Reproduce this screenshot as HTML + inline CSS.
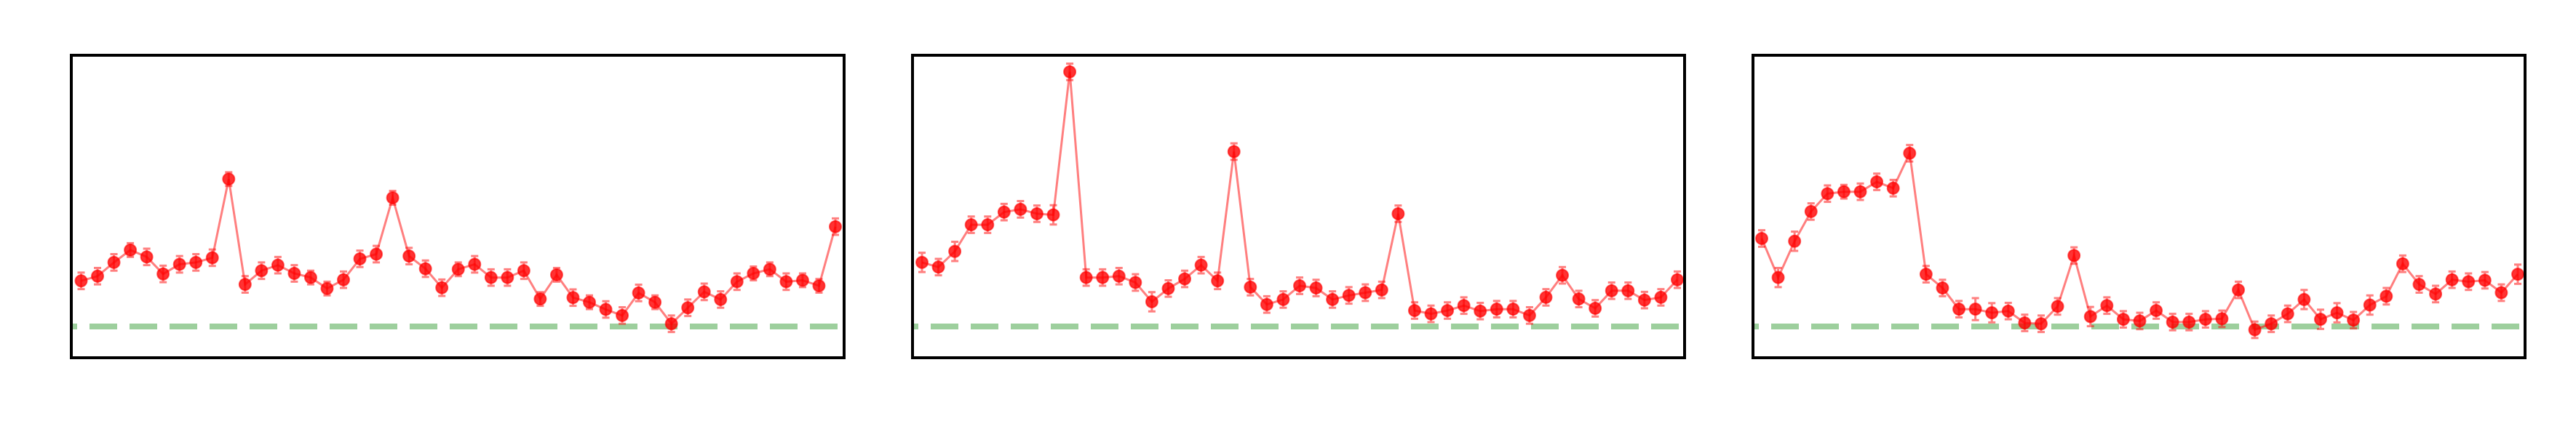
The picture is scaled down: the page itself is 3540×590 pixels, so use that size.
<!DOCTYPE html>
<html><head><meta charset="utf-8"><style>
html,body{margin:0;padding:0;background:#fff;}
svg{display:block;}
</style></head><body>
<svg id="chart" width="3540" height="590" viewBox="0 0 3540 590" xmlns="http://www.w3.org/2000/svg"></svg>
<script>
const series1 = [1.66,1.83,2.33,2.78,2.53,1.91,2.26,2.33,2.50,5.36,1.53,2.03,2.23,1.93,1.78,1.38,1.70,2.46,2.63,4.68,2.56,2.10,1.41,2.08,2.26,1.78,1.78,2.03,1.00,1.88,1.05,0.88,0.62,0.40,1.22,0.88,0.10,0.68,1.26,0.98,1.63,1.93,2.08,1.63,1.68,1.48,3.63];
const series2 = [2.33,2.16,2.73,3.70,3.70,4.16,4.26,4.10,4.06,9.26,1.78,1.78,1.83,1.60,0.90,1.38,1.73,2.23,1.66,6.36,1.43,0.80,0.98,1.48,1.40,0.98,1.13,1.23,1.33,4.10,0.58,0.46,0.58,0.76,0.56,0.63,0.63,0.40,1.06,1.86,1.00,0.66,1.30,1.30,0.96,1.06,1.70];
const series3 = [3.20,1.78,3.10,4.18,4.83,4.90,4.90,5.26,5.03,6.30,1.90,1.40,0.63,0.63,0.50,0.56,0.13,0.10,0.73,2.58,0.36,0.76,0.26,0.20,0.58,0.16,0.16,0.26,0.28,1.33,-0.12,0.10,0.46,0.98,0.26,0.50,0.23,0.78,1.10,2.28,1.53,1.18,1.70,1.63,1.68,1.23,1.90];
const errors1 = [0.3,0.3,0.3,0.25,0.3,0.3,0.3,0.3,0.3,0.25,0.3,0.3,0.3,0.3,0.25,0.25,0.3,0.3,0.3,0.25,0.3,0.3,0.3,0.25,0.3,0.3,0.3,0.3,0.25,0.25,0.3,0.25,0.3,0.3,0.3,0.25,0.3,0.3,0.3,0.3,0.3,0.25,0.25,0.3,0.25,0.25,0.3];
const errors2 = [0.35,0.3,0.35,0.3,0.3,0.3,0.3,0.3,0.35,0.3,0.3,0.3,0.3,0.3,0.35,0.3,0.3,0.3,0.3,0.3,0.3,0.3,0.3,0.3,0.3,0.3,0.3,0.3,0.3,0.3,0.3,0.3,0.3,0.3,0.3,0.3,0.3,0.3,0.3,0.3,0.3,0.3,0.3,0.3,0.3,0.3,0.3];
const errors3 = [0.3,0.35,0.35,0.3,0.3,0.25,0.3,0.3,0.3,0.3,0.3,0.3,0.3,0.4,0.35,0.3,0.3,0.3,0.3,0.3,0.35,0.3,0.3,0.3,0.3,0.3,0.3,0.3,0.3,0.3,0.3,0.3,0.3,0.35,0.35,0.35,0.3,0.35,0.3,0.3,0.3,0.3,0.3,0.3,0.3,0.3,0.35];
const baselineValue = 0;

const NS = "http://www.w3.org/2000/svg";
const svg = document.getElementById('chart');
function mk(tag, attrs, parent){
  const e = document.createElementNS(NS, tag);
  for (const k in attrs) e.setAttribute(k, attrs[k]);
  (parent||svg).appendChild(e);
  return e;
}
const panels = [
  {left:98, right:1160, data:series1, err:errors1, padL:13.5, padR:12},
  {left:1254, right:2315, data:series2, err:errors2, padL:13, padR:10},
  {left:2409, right:3470, data:series3, err:errors3, padL:12, padR:10}
];
const plotTop = 76, plotBottom = 492;
const yZero = 449, yUnit = 37.82;
function yScale(v){ return yZero - v*yUnit; }

panels.forEach((p, pi) => {
  const g = mk('g', {});
  
  
  const n = p.data.length;
  const x0 = p.left + p.padL, x1 = p.right - p.padR;
  function xScale(i){ return x0 + i*(x1-x0)/(n-1); }

  const clipId = 'clip' + pi;
  const cp = mk('clipPath', {id: clipId}, g);
  mk('rect', {x:p.left, y:plotTop, width:p.right-p.left, height:plotBottom-plotTop}, cp);
  const inner = mk('g', {'clip-path':'url(#'+clipId+')'}, g);

  const base = mk('line', {x1:p.left, x2:p.right, y1:yScale(baselineValue), y2:yScale(baselineValue), stroke:'rgba(60,160,60,0.5)', 'stroke-width':8, 'stroke-dasharray':'38 17', 'stroke-dashoffset':'30'}, inner);
  
  

  const pts = p.data.map((v,i) => xScale(i).toFixed(1)+','+yScale(v).toFixed(1)).join(' ');
  const line = mk('polyline', {points:pts, fill:'none', stroke:'rgba(255,0,0,0.5)', 'stroke-width':3}, inner);
  
  

  p.data.forEach((v,i) => {
    const x = xScale(i), y1 = yScale(v + p.err[i]), y2 = yScale(v - p.err[i]);
    const eb = mk('path', {d:`M${x},${y1}V${y2}M${x-5},${y1}H${x+5}M${x-5},${y2}H${x+5}`, stroke:'rgba(255,0,0,0.5)', 'stroke-width':3, fill:'none'}, inner);
    
    
    const c = mk('circle', {cx:x, cy:yScale(v), r:8, fill:'rgba(255,0,0,0.8)', stroke:'rgba(255,0,0,0.6)', 'stroke-width':2}, inner);
    
    
  });

  const frame = mk('rect', {x:p.left, y:plotTop, width:p.right-p.left, height:plotBottom-plotTop, fill:'none', stroke:'#000', 'stroke-width':4}, g);
  
  
});
</script>
</body></html>
